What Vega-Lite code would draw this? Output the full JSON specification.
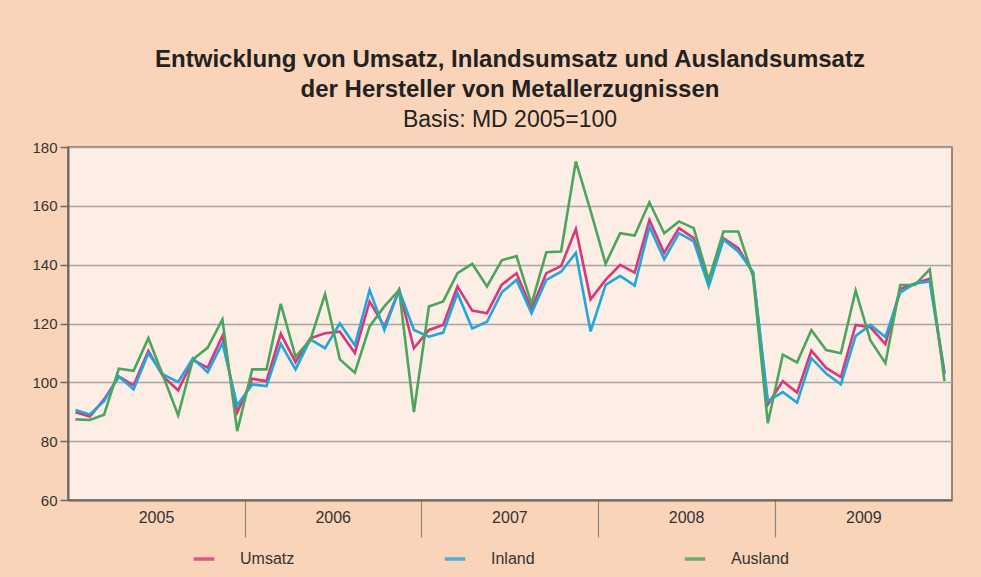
{
  "$schema": "https://vega.github.io/schema/vega-lite/v6.json",
  "width": 884,
  "height": 353,
  "autosize": {"type": "none"},
  "padding": {"left": 68, "top": 147, "right": 29, "bottom": 77},
  "background": "#FAD4B8",
  "config": {
    "font": "Liberation Sans",
    "view": {"fill": "#FCEEE4", "stroke": "#6e6865", "strokeWidth": 1.5}
  },
  "title": {
    "text": ["Entwicklung von Umsatz, Inlandsumsatz und Auslandsumsatz", "der Hersteller von Metallerzugnissen"],
    "subtitle": "Basis: MD 2005=100",
    "font": "Liberation Sans",
    "fontSize": 24,
    "fontWeight": "bold",
    "lineHeight": 30,
    "color": "#222222",
    "subtitleFont": "Liberation Sans",
    "subtitleFontSize": 23,
    "subtitleLineHeight": 30,
    "subtitleColor": "#222222",
    "subtitlePadding": 7,
    "anchor": "middle",
    "frame": "group",
    "offset": 8
  },
  "data": {
    "values": [
      {"d": "2005/01/01", "Umsatz": 89.8, "Inland": 90.6, "Ausland": 87.4},
      {"d": "2005/02/01", "Umsatz": 88.4, "Inland": 89.1, "Ausland": 87.2},
      {"d": "2005/03/01", "Umsatz": 94.2, "Inland": 93.6, "Ausland": 89.0},
      {"d": "2005/04/01", "Umsatz": 102.0, "Inland": 102.0, "Ausland": 104.6},
      {"d": "2005/05/01", "Umsatz": 99.0, "Inland": 97.6, "Ausland": 103.9},
      {"d": "2005/06/01", "Umsatz": 110.7, "Inland": 109.9, "Ausland": 115.0},
      {"d": "2005/07/01", "Umsatz": 102.0, "Inland": 102.7, "Ausland": 102.2},
      {"d": "2005/08/01", "Umsatz": 97.3, "Inland": 100.1, "Ausland": 88.8},
      {"d": "2005/09/01", "Umsatz": 107.6, "Inland": 108.2, "Ausland": 107.8},
      {"d": "2005/10/01", "Umsatz": 105.0, "Inland": 103.4, "Ausland": 111.8},
      {"d": "2005/11/01", "Umsatz": 115.8, "Inland": 113.3, "Ausland": 121.4},
      {"d": "2005/12/01", "Umsatz": 89.8, "Inland": 92.2, "Ausland": 83.4},
      {"d": "2006/01/01", "Umsatz": 101.2, "Inland": 99.3, "Ausland": 104.4},
      {"d": "2006/02/01", "Umsatz": 100.4, "Inland": 98.7, "Ausland": 104.4},
      {"d": "2006/03/01", "Umsatz": 116.5, "Inland": 113.1, "Ausland": 126.7},
      {"d": "2006/04/01", "Umsatz": 106.9, "Inland": 104.4, "Ausland": 108.7},
      {"d": "2006/05/01", "Umsatz": 115.0, "Inland": 114.6, "Ausland": 114.4},
      {"d": "2006/06/01", "Umsatz": 116.7, "Inland": 111.6, "Ausland": 130.0},
      {"d": "2006/07/01", "Umsatz": 117.2, "Inland": 120.0, "Ausland": 107.8},
      {"d": "2006/08/01", "Umsatz": 110.0, "Inland": 112.6, "Ausland": 103.3},
      {"d": "2006/09/01", "Umsatz": 127.5, "Inland": 131.4, "Ausland": 119.0},
      {"d": "2006/10/01", "Umsatz": 119.0, "Inland": 117.8, "Ausland": 125.8},
      {"d": "2006/11/01", "Umsatz": 131.4, "Inland": 131.4, "Ausland": 131.4},
      {"d": "2006/12/01", "Umsatz": 111.6, "Inland": 117.8, "Ausland": 89.9},
      {"d": "2007/01/01", "Umsatz": 117.8, "Inland": 115.5, "Ausland": 125.8},
      {"d": "2007/02/01", "Umsatz": 119.5, "Inland": 116.9, "Ausland": 127.5},
      {"d": "2007/03/01", "Umsatz": 132.6, "Inland": 130.3, "Ausland": 137.1},
      {"d": "2007/04/01", "Umsatz": 124.4, "Inland": 118.3, "Ausland": 140.3},
      {"d": "2007/05/01", "Umsatz": 123.5, "Inland": 120.6, "Ausland": 132.6},
      {"d": "2007/06/01", "Umsatz": 133.2, "Inland": 130.6, "Ausland": 141.5},
      {"d": "2007/07/01", "Umsatz": 137.1, "Inland": 134.8, "Ausland": 142.9},
      {"d": "2007/08/01", "Umsatz": 124.9, "Inland": 123.5, "Ausland": 126.6},
      {"d": "2007/09/01", "Umsatz": 137.1, "Inland": 134.8, "Ausland": 144.2},
      {"d": "2007/10/01", "Umsatz": 139.5, "Inland": 137.6, "Ausland": 144.5},
      {"d": "2007/11/01", "Umsatz": 152.1, "Inland": 144.0, "Ausland": 175.1},
      {"d": "2007/12/01", "Umsatz": 128.2, "Inland": 117.3, "Ausland": 158.3},
      {"d": "2008/01/01", "Umsatz": 134.8, "Inland": 133.1, "Ausland": 140.3},
      {"d": "2008/02/01", "Umsatz": 139.9, "Inland": 136.2, "Ausland": 150.7},
      {"d": "2008/03/01", "Umsatz": 137.3, "Inland": 132.9, "Ausland": 149.9},
      {"d": "2008/04/01", "Umsatz": 155.2, "Inland": 152.9, "Ausland": 161.2},
      {"d": "2008/05/01", "Umsatz": 144.0, "Inland": 141.8, "Ausland": 150.7},
      {"d": "2008/06/01", "Umsatz": 152.4, "Inland": 150.7, "Ausland": 154.7},
      {"d": "2008/07/01", "Umsatz": 149.0, "Inland": 147.9, "Ausland": 152.4},
      {"d": "2008/08/01", "Umsatz": 134.2, "Inland": 132.6, "Ausland": 134.8},
      {"d": "2008/09/01", "Umsatz": 149.0, "Inland": 148.5, "Ausland": 151.3},
      {"d": "2008/10/01", "Umsatz": 145.6, "Inland": 144.5, "Ausland": 151.3},
      {"d": "2008/11/01", "Umsatz": 137.1, "Inland": 137.6, "Ausland": 136.0},
      {"d": "2008/12/01", "Umsatz": 92.5, "Inland": 93.6, "Ausland": 86.1},
      {"d": "2009/01/01", "Umsatz": 100.4, "Inland": 96.7, "Ausland": 109.4},
      {"d": "2009/02/01", "Umsatz": 96.5, "Inland": 93.1, "Ausland": 106.8},
      {"d": "2009/03/01", "Umsatz": 110.8, "Inland": 108.2, "Ausland": 117.8},
      {"d": "2009/04/01", "Umsatz": 104.9, "Inland": 103.0, "Ausland": 111.0},
      {"d": "2009/05/01", "Umsatz": 101.8, "Inland": 99.3, "Ausland": 109.9},
      {"d": "2009/06/01", "Umsatz": 119.5, "Inland": 115.8, "Ausland": 131.2},
      {"d": "2009/07/01", "Umsatz": 118.7, "Inland": 119.5, "Ausland": 114.2},
      {"d": "2009/08/01", "Umsatz": 113.0, "Inland": 115.4, "Ausland": 106.5},
      {"d": "2009/09/01", "Umsatz": 131.7, "Inland": 130.5, "Ausland": 133.1},
      {"d": "2009/10/01", "Umsatz": 133.6, "Inland": 133.6, "Ausland": 133.1},
      {"d": "2009/11/01", "Umsatz": 135.2, "Inland": 134.3, "Ausland": 138.4},
      {"d": "2009/12/01", "Umsatz": 103.3, "Inland": 102.7, "Ausland": 100.4}
    ]
  },
  "transform": [
    {"fold": ["Umsatz", "Inland", "Ausland"], "as": ["serie", "wert"]}
  ],
  "mark": {"type": "line", "strokeWidth": 2.6, "strokeJoin": "miter"},
  "encoding": {
    "x": {
      "field": "d",
      "type": "temporal",
      "timeUnit": "yearmonth",
      "bandPosition": 0.5,
      "title": null,
      "scale": {"domain": [{"year": 2005, "month": 1, "date": 1}, {"year": 2010, "month": 1, "date": 1}]},
      "axis": {
        "values": [
          {"year": 2005, "month": 1, "date": 1},
          {"year": 2006, "month": 1, "date": 1},
          {"year": 2007, "month": 1, "date": 1},
          {"year": 2008, "month": 1, "date": 1},
          {"year": 2009, "month": 1, "date": 1}
        ],
        "format": "%Y",
        "grid": false,
        "labelOffset": 88,
        "labelFlush": false,
        "labelOverlap": false,
        "labelBound": false,
        "labelPadding": -28,
        "labelFontSize": 16,
        "labelColor": "#333333",
        "tickSize": 37,
        "tickColor": "#8a8481",
        "tickWidth": 1.2,
        "tickOpacity": {"condition": {"test": "year(datum.value) == 2005", "value": 0}, "value": 1},
        "domainColor": "#6e6865",
        "domainWidth": 2
      }
    },
    "y": {
      "field": "wert",
      "type": "quantitative",
      "title": null,
      "scale": {"domain": [60, 180], "nice": false, "zero": false},
      "axis": {
        "values": [60, 80, 100, 120, 140, 160, 180],
        "tickSize": 8,
        "tickColor": "#6e6865",
        "tickWidth": 1.5,
        "domainColor": "#6e6865",
        "domainWidth": 2,
        "gridColor": "#a8a3a0",
        "gridWidth": 1.5,
        "labelFontSize": 15,
        "labelColor": "#333333",
        "labelPadding": 3
      }
    },
    "color": {
      "field": "serie",
      "type": "nominal",
      "sort": ["Umsatz", "Inland", "Ausland"],
      "scale": {"domain": ["Umsatz", "Inland", "Ausland"], "range": ["#D8387A", "#22A6DD", "#4BA55C"]},
      "legend": {
        "title": null,
        "orient": "none",
        "legendX": 124,
        "legendY": 400,
        "direction": "horizontal",
        "symbolType": "stroke",
        "symbolSize": 420,
        "symbolStrokeWidth": 3.5,
        "symbolOpacity": 0.8,
        "labelFontSize": 16,
        "labelColor": "#333333",
        "labelOffset": 24,
        "columnPadding": 142
      }
    }
  }
}
